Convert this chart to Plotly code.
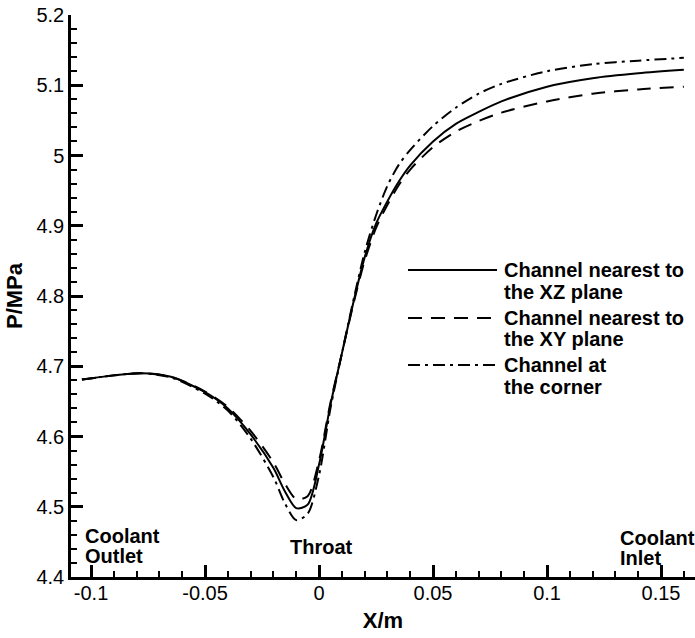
import plotly.graph_objects as go

# ---- data ----
x_pos = [-0.104, -0.09, -0.078, -0.065, -0.05, -0.04, -0.03, -0.02, -0.015, -0.01,
         -0.005, 0.0, 0.005, 0.01, 0.015, 0.02, 0.025, 0.03, 0.035, 0.04, 0.05,
         0.06, 0.07, 0.08, 0.1, 0.12, 0.14, 0.16]

p_xz = [4.681, 4.687, 4.690, 4.685, 4.663, 4.640, 4.603, 4.555, 4.522, 4.498,
        4.503, 4.560, 4.645, 4.718, 4.790, 4.855, 4.903, 4.935, 4.963, 4.986, 5.020,
        5.045, 5.062, 5.077, 5.098, 5.110, 5.117, 5.122]

p_xy = [4.681, 4.687, 4.690, 4.685, 4.664, 4.642, 4.608, 4.563, 4.533, 4.511,
        4.515, 4.566, 4.648, 4.718, 4.788, 4.850, 4.897, 4.930, 4.958, 4.980, 5.012,
        5.034, 5.049, 5.061, 5.077, 5.088, 5.094, 5.098]

p_corner = [4.681, 4.687, 4.690, 4.684, 4.661, 4.637, 4.597, 4.542, 4.505, 4.481,
            4.490, 4.545, 4.640, 4.718, 4.793, 4.862, 4.915, 4.957, 4.987, 5.008, 5.042,
            5.068, 5.088, 5.102, 5.120, 5.130, 5.135, 5.139]

series_names = ["Channel nearest to|the XZ plane",
                "Channel nearest to|the XY plane",
                "Channel at|the corner"]

x_tickvals = [-0.1, -0.05, 0, 0.05, 0.1, 0.15]
x_ticktext = ["-0.1", "-0.05", "0", "0.05", "0.1", "0.15"]
y_tickvals = [4.4, 4.5, 4.6, 4.7, 4.8, 4.9, 5.0, 5.1, 5.2]
y_ticktext = ["4.4", "4.5", "4.6", "4.7", "4.8", "4.9", "5", "5.1", "5.2"]

# ---- layout constants ----
W, H = 695, 638
ML, MR, MT, MB = 71, 0, 15, 61
PW, PH = W - ML - MR, H - MT - MB
FONT = "Liberation Sans, Arial, sans-serif"

def px_x(px):
    return (px - ML) / PW

def px_y(py):
    return (H - MB - py) / PH

dash_styles = ["solid", "14px,9px", "12px,5px,3px,5px"]
series_vals = [p_xz, p_xy, p_corner]

fig = go.Figure()
for vals, dash, name in zip(series_vals, dash_styles, series_names):
    fig.add_trace(go.Scatter(
        x=x_pos, y=vals, mode="lines", name=name.replace("|", " "),
        line=dict(color="black", width=2, dash=dash, shape="spline", smoothing=0.8),
        showlegend=False))

# manual legend (long line samples like the original)
leg_rows = [(270, 292), (318, 339), (365, 387)]
shapes = []
annotations = []
for (y1, y2), dash, name in zip(leg_rows, dash_styles, series_names):
    shapes.append(dict(type="line", xref="paper", yref="paper",
                       x0=px_x(408), x1=px_x(497), y0=px_y(y1), y1=px_y(y1),
                       line=dict(color="black", width=2, dash=dash)))
    l1, l2 = name.split("|")
    for txt, yy in ((l1, y1), (l2, y2)):
        annotations.append(dict(text=txt, xref="paper", yref="paper",
                                x=px_x(502), y=px_y(yy), xanchor="left", yanchor="middle",
                                showarrow=False,
                                font=dict(family=FONT, size=20, color="black", weight="bold")))

# location labels
for txt, px, py, anchor in [("Coolant", 83, 536, "left"), ("Outlet", 83, 556, "left"),
                            ("Throat", 321, 547, "center"),
                            ("Coolant", 618, 538, "left"), ("Inlet", 618, 558, "left")]:
    annotations.append(dict(text=txt, xref="paper", yref="paper",
                            x=px_x(px), y=px_y(py), xanchor=anchor, yanchor="middle",
                            showarrow=False,
                            font=dict(family=FONT, size=20, color="black", weight="bold")))

axis_common = dict(showline=True, linecolor="black", linewidth=2.5, mirror=False,
                   showgrid=False, zeroline=False, ticks="inside", ticklen=12,
                   tickwidth=2.5, tickcolor="black",
                   tickfont=dict(family=FONT, size=20, color="black"))

fig.update_layout(
    width=W, height=H,
    margin=dict(l=ML, r=MR, t=MT, b=MB, autoexpand=False),
    paper_bgcolor="white", plot_bgcolor="white",
    xaxis=dict(range=[-0.1088, 0.1649], tickvals=x_tickvals, ticktext=x_ticktext,
               ticklabelstandoff=-4,
               minor=dict(ticks="inside", ticklen=6, tickwidth=1.5, tickcolor="black", dtick=0.01, tick0=0),
               title=dict(text="X/m", standoff=10,
                          font=dict(family=FONT, size=22, color="black", weight="bold")),
               automargin=False, **axis_common),
    yaxis=dict(range=[4.4, 5.2], tickvals=y_tickvals, ticktext=y_ticktext,
               minor=dict(ticks="inside", ticklen=6, tickwidth=1.5, tickcolor="black", dtick=0.02, tick0=4.4),
               title=dict(text="P/MPa", standoff=8,
                          font=dict(family=FONT, size=22, color="black", weight="bold")),
               automargin=False, **axis_common),
    shapes=shapes, annotations=annotations,
)

fig.write_html("out.html")
